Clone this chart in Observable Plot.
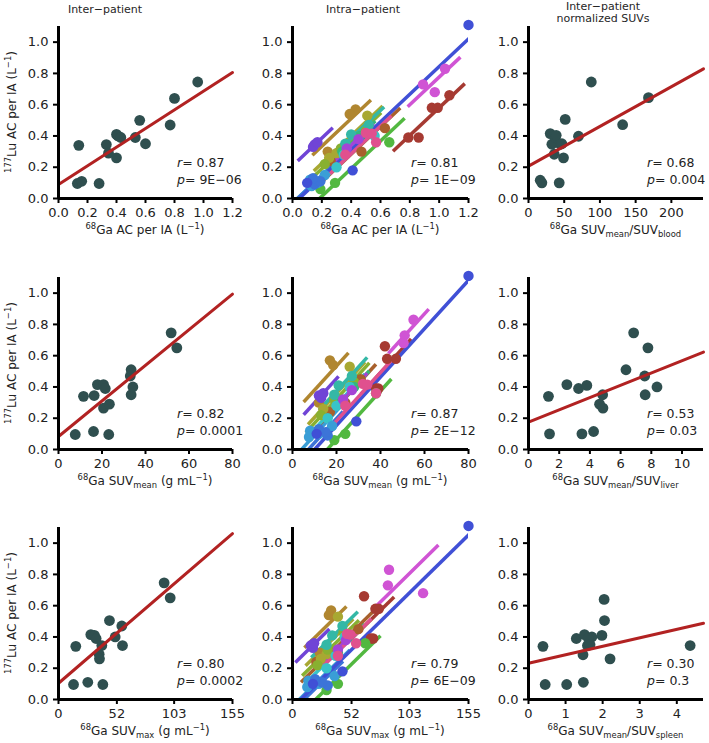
<!DOCTYPE html>
<html><head><meta charset="utf-8">
<script src="https://cdn.jsdelivr.net/npm/d3@7"></script>
<script src="https://cdn.jsdelivr.net/npm/@observablehq/plot@0.6"></script>
<style>
body{margin:0;background:#fff;font-family:"DejaVu Sans",sans-serif;}
#wrap{position:relative;width:709px;height:743px;overflow:hidden;background:#fff;}
.title{position:absolute;font-size:11px;text-align:center;color:#262626;line-height:12px;transform:translateX(-50%);white-space:nowrap;}
svg{position:absolute;}
svg [aria-label$="tick label"], svg [aria-label$="tick label"] text{font-size:13px !important;font-family:"DejaVu Sans" !important;}
</style></head><body><div id="wrap"></div><script>
// ---------- data ----------
const yTicks = [0, 0.2, 0.4, 0.6, 0.8, 1.0];
const acTicks = [0, 0.2, 0.4, 0.6, 0.8, 1.0, 1.2];
const meanTicks = [0, 20, 40, 60, 80];
const maxTicks = [0, 52, 103, 155];
const bloodTicks = [0, 50, 100, 150, 200];
const liverTicks = [0, 2, 4, 6, 8, 10];
const spleenTicks = [0, 1, 2, 3, 4];

// inter-patient
const acX = [0.13,0.16,0.14,0.28,0.33,0.345,0.40,0.40,0.41,0.43,0.53,0.56,0.60,0.77,0.80,0.96];
const acY = [0.096,0.11,0.34,0.096,0.345,0.29,0.41,0.26,0.40,0.39,0.39,0.50,0.35,0.47,0.64,0.745];
const meanX = [7.7,11.5,16.1,16.4,17.9,20.7,21.5,20.7,23.4,23.1,33.4,33.0,33.4,34.2,51.8,54.4];
const meanY = [0.096,0.34,0.115,0.345,0.415,0.415,0.39,0.265,0.29,0.096,0.51,0.47,0.35,0.40,0.746,0.65];
const maxX = [13.4,15.4,26.1,39.5,28.8,32.0,33.5,36.2,36.5,38.6,45.4,50.5,56.4,57.0,94.1,99.5];
const maxY = [0.096,0.34,0.11,0.096,0.415,0.41,0.39,0.29,0.26,0.345,0.505,0.40,0.47,0.345,0.746,0.65];
const bloodX = [16.4,18.7,43,30.4,32.7,37.4,36,38.8,44.4,46.7,49,51.4,70,87.9,131.8,168];
const bloodY = [0.117,0.10,0.10,0.415,0.347,0.39,0.283,0.404,0.347,0.35,0.26,0.506,0.398,0.745,0.472,0.645];
const liverX = [1.3,1.37,2.5,3.26,3.48,3.8,4.24,4.63,4.83,4.85,6.35,6.85,7.57,7.6,7.78,8.37];
const liverY = [0.34,0.10,0.415,0.39,0.10,0.41,0.115,0.29,0.35,0.265,0.51,0.746,0.47,0.35,0.65,0.40];
const spleenX = [0.39,0.45,1.03,1.29,1.48,1.47,1.51,1.59,1.71,1.98,2.04,2.05,2.2,4.36,1.62,1.66];
const spleenY = [0.34,0.096,0.096,0.39,0.11,0.286,0.415,0.345,0.40,0.41,0.64,0.505,0.26,0.345,0.39,0.35];

// fitted regression lines (intercept, slope) for AC, blood, SUVmean, liver, SUVmax, spleen
const fitIntercept = [0.09, 0.207, 0.083, 0.175, 0.104, 0.232];
const fitSlope     = [0.596, 0.00254, 0.01138, 0.0393, 0.00617, 0.0542];

// intra-patient lesions
const intraPatient = [0,0,0,0,0, 1,1,1, 2,2,2, 3,3,3, 4,4,4, 5,5,5, 6,6, 7,7,7, 8,8,8, 9,9,9,9, 10,10,10, 11,11,11, 12,12,12, 13,13, 14,14,14, 15,15,15,15];
const intraY    = [0.66,0.58,0.58,0.39,0.39, 0.30,0.45,0.24, 0.57,0.54,0.30, 0.53,0.29,0.26, 0.43,0.22,0.32, 0.36,0.10,0.06, 0.40,0.30, 0.41,0.35,0.47, 0.28,0.40,0.20, 0.12,0.08,0.15,0.10, 0.09,0.11,0.13, 1.11,0.18,0.10, 0.345,0.33,0.36, 0.38,0.32, 0.83,0.73,0.68, 0.42,0.415,0.36,0.28];
const intraAC   = [1.07,0.95,0.99,0.79,0.86, 0.47,0.63,0.26, 0.43,0.39,0.24, 0.51,0.30,0.25, 0.50,0.22,0.33, 0.66,0.29,0.19, 0.46,0.34, 0.40,0.36,0.52, 0.35,0.56,0.30, 0.12,0.13,0.22,0.17, 0.15,0.19,0.14, 1.20,0.41,0.10, 0.15,0.14,0.17, 0.45,0.37, 1.04,0.89,0.97, 0.50,0.54,0.57,0.36];
const intraMean = [42,43,47,38,39, 24,31,17, 17,18.5,12, 26,20,14, 28,13,19, 38,24,19, 28,22, 21,19,27, 20,26,16, 8,7.5,18,12, 16,15,12, 80,29,11, 12,13,14, 27,23, 55,51,50.5, 32,34,38,24];
const intraMax  = [63,73,76,71,69, 36,58,21, 34,32,24, 40,30,25, 45,22,31, 64,40,30, 50,40, 35,30,44, 38,46,30, 14,13,37,23, 31,26,20, 155,44,18, 16,18,19, 47,40, 85,84,115, 48,51,56,40];
const palette = ["#a63a32","#a8602c","#b08630","#a8a832","#88b030","#52b840","#36b878","#34b8a6",
                 "#38c4c8","#3a9ed6","#3c74d8","#4050d6","#7044d6","#a444d6","#d054d4","#e0508e"];

const statsR = ["0.87","0.81","0.68","0.82","0.87","0.53","0.80","0.79","0.30"];
const statsP = ["9E\u221206","1E\u221209","0.004","0.0001","2E\u221212","0.03","0.0002","6E\u221209","0.3"];

const labelAC = [{t:"68",sup:1},{t:"Ga AC per IA (L"},{t:"\u22121",sup:1},{t:")"}];
const labelMean = [{t:"68",sup:1},{t:"Ga SUV"},{t:"mean",sub:1},{t:" (g mL"},{t:"\u22121",sup:1},{t:")"}];
const labelMax = [{t:"68",sup:1},{t:"Ga SUV"},{t:"max",sub:1},{t:" (g mL"},{t:"\u22121",sup:1},{t:")"}];
const labelBlood = [{t:"68",sup:1},{t:"Ga SUV"},{t:"mean",sub:1},{t:"/SUV"},{t:"blood",sub:1}];
const labelLiver = [{t:"68",sup:1},{t:"Ga SUV"},{t:"mean",sub:1},{t:"/SUV"},{t:"liver",sub:1}];
const labelSpleen = [{t:"68",sup:1},{t:"Ga SUV"},{t:"mean",sub:1},{t:"/SUV"},{t:"spleen",sub:1}];
const labelY = [{t:"177",sup:1},{t:"Lu AC per IA (L"},{t:"\u22121",sup:1},{t:")"}];
const titles = [["Inter\u2212patient"],["Intra\u2212patient"],["Inter\u2212patient","normalized SUVs"]];

// ---------- layout ----------
const wrap = d3.select("#wrap");
const frameLeft = [58, 292, 528], frameW = [174, 176, 175], mLeft = [58, 52, 48];
const frameTop = [26, 277, 527], frameH = 172, mTop = 8, mBottom = 50, mRight = 6;
const titleX = [105, 363, 603], titleTop = [4, 4, 1];

titles.forEach((lines, c) => {
  wrap.append("div").attr("class","title")
    .style("left", titleX[c]+"px").style("top", titleTop[c]+"px")
    .html(lines.join("<br>"));
});

function rich(parent, parts, size) {
  let cur = 0;
  for (const p of parts) {
    const shift = p.sup ? -0.4*size : p.sub ? 0.25*size : 0;
    const ts = parent.append("tspan").text(p.t).attr("dy", shift - cur);
    if (p.sup || p.sub) ts.attr("font-size", size*0.7);
    if (p.it) ts.attr("font-style","italic");
    cur = shift;
  }
}

// repeated-measures fit: common slope, one intercept per patient
function rmLines(xs, ys, ids, pad) {
  const groups = d3.group(d3.range(xs.length), i => ids[i]);
  let sxy = 0, sxx = 0;
  const st = [];
  for (const [g, idx] of groups) {
    const mx = d3.mean(idx, i => xs[i]), my = d3.mean(idx, i => ys[i]);
    for (const i of idx) { sxy += (xs[i]-mx)*(ys[i]-my); sxx += (xs[i]-mx)**2; }
    st.push({g, mx, my, x0: d3.min(idx, i => xs[i]) - pad, x1: d3.max(idx, i => xs[i]) + pad});
  }
  const b = sxy/sxx;
  return st.flatMap(s => [{g:s.g, x:s.x0, y:s.my + b*(s.x0 - s.mx)}, {g:s.g, x:s.x1, y:s.my + b*(s.x1 - s.mx)}]);
}

function panel(r, c, cfg) {
  const W = frameW[c];
  const xDomain = cfg.xDomain;
  let marks = [];
  if (cfg.inter) {
    const pts = cfg.x.map((x,i) => ({x, y: cfg.y[i]}));
    const a = fitIntercept[cfg.fit], b = fitSlope[cfg.fit];
    const fit = xDomain.map(x => ({x, y: a + b*x}));
    marks = [
      Plot.dot(pts, {x:"x", y:"y", r:5.4, fill:"#2f4f4f", stroke:"none"}),
      Plot.line(fit, {x:"x", y:"y", stroke:"#b22222", strokeWidth:3})
    ];
  } else {
    const pts = cfg.x.map((x,i) => ({x, y: intraY[i], p: intraPatient[i]}));
    const lines = rmLines(cfg.x, intraY, intraPatient, 0.08*(xDomain[1]-xDomain[0]));
    marks = [
      Plot.line(lines, {x:"x", y:"y", z:"g", stroke: d => palette[d.g], strokeWidth:3.5, strokeLinecap:"square", clip:true}),
      Plot.dot(pts, {x:"x", y:"y", r:5.2, fill: d => palette[d.p], stroke:"none"})
    ];
  }
  const svg = Plot.plot({
    width: mLeft[c] + W + mRight,
    height: mTop + frameH + mBottom,
    marginLeft: mLeft[c], marginRight: mRight, marginTop: mTop, marginBottom: mBottom,
    style: {fontFamily: "DejaVu Sans", fontSize: "13px", color: "#222", background: "transparent", overflow: "visible"},
    x: {domain: xDomain, label: null},
    y: {domain: [0, 1.1], label: null},
    color: {type: "identity"},
    marks: [
      Plot.axisX({ticks: cfg.ticks, tickFormat: cfg.fmt, tickSize: 5, tickPadding: 4, strokeWidth: 2, stroke: "#000", fontSize: 13, label: null}),
      Plot.axisY({ticks: yTicks, tickFormat: d3.format(".1f"), tickSize: 5, tickPadding: 5, strokeWidth: 2, stroke: "#000", fontSize: 13, label: null}),
      ...marks,
      Plot.ruleX([xDomain[0]], {stroke: "#000", strokeWidth: 3}),
      Plot.ruleY([0], {stroke: "#000", strokeWidth: 3})
    ]
  });
  const s = d3.select(svg);
  s.style("left", (frameLeft[c] - mLeft[c]) + "px").style("top", (frameTop[r] - mTop) + "px");
  const fb = mTop + frameH;
  const xl = s.append("text").attr("x", mLeft[c] + W/2).attr("y", fb + 36)
    .attr("text-anchor", "middle").attr("font-size", 12).attr("fill", "#222").attr("font-family", "DejaVu Sans");
  rich(xl, cfg.xlabel, 12);
  if (c === 0) {
    const yl = s.append("text")
      .attr("transform", `translate(${16},${mTop + frameH/2}) rotate(-90)`)
      .attr("text-anchor", "middle").attr("font-size", 12).attr("fill", "#222").attr("font-family", "DejaVu Sans");
    rich(yl, labelY, 12);
  }
  const k = r*3 + c;
  const st = s.append("g").attr("font-size", 12.5).attr("fill", "#222").attr("font-family", "DejaVu Sans").attr("text-anchor", "start");
  const t1 = st.append("text").attr("x", mLeft[c] + 119).attr("y", fb - 31).attr("text-anchor", "start");
  rich(t1, [{t:"r", it:1}, {t:"= " + statsR[k]}], 12.5);
  const t2 = st.append("text").attr("x", mLeft[c] + 119).attr("y", fb - 14).attr("text-anchor", "start");
  rich(t2, [{t:"p", it:1}, {t:"= " + statsP[k]}], 12.5);
  wrap.node().appendChild(svg);
}

const f1 = d3.format(".1f"), f0 = d3.format("d");
panel(0, 0, {inter:1, fit:0, x: acX, y: acY, xDomain:[0,1.2], ticks: acTicks, fmt: f1, xlabel: labelAC});
panel(0, 1, {x: intraAC, xDomain:[0,1.2], ticks: acTicks, fmt: f1, xlabel: labelAC});
panel(0, 2, {inter:1, fit:1, x: bloodX, y: bloodY, xDomain:[0,245], ticks: bloodTicks, fmt: f0, xlabel: labelBlood});
panel(1, 0, {inter:1, fit:2, x: meanX, y: meanY, xDomain:[0,80], ticks: meanTicks, fmt: f0, xlabel: labelMean});
panel(1, 1, {x: intraMean, xDomain:[0,80], ticks: meanTicks, fmt: f0, xlabel: labelMean});
panel(1, 2, {inter:1, fit:3, x: liverX, y: liverY, xDomain:[0,11.4], ticks: liverTicks, fmt: f0, xlabel: labelLiver});
panel(2, 0, {inter:1, fit:4, x: maxX, y: maxY, xDomain:[0,155], ticks: maxTicks, fmt: f0, xlabel: labelMax});
panel(2, 1, {x: intraMax, xDomain:[0,155], ticks: maxTicks, fmt: f0, xlabel: labelMax});
panel(2, 2, {inter:1, fit:5, x: spleenX, y: spleenY, xDomain:[0,4.72], ticks: spleenTicks, fmt: f0, xlabel: labelSpleen});
</script></body></html>
